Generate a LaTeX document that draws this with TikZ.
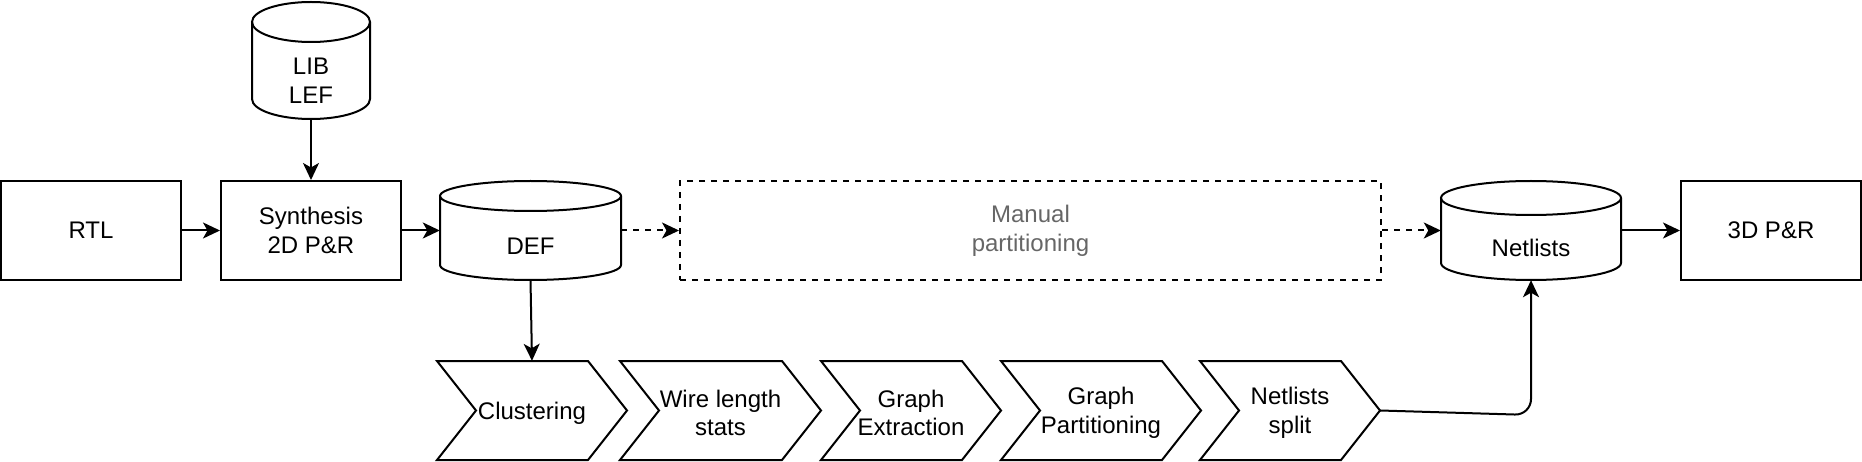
\documentclass[tikz,border=0pt]{standalone}
\usepackage{fontspec}
\setmainfont{Liberation Sans}
\usetikzlibrary{arrows.meta,calc}
\definecolor{fadedtext}{HTML}{666666}
\newcommand\dbcyl[5]{% #1 left, #2 right, #3 top, #4 bottom, #5 ry  (y negative)
  \pgfmathsetmacro\cylrx{(#2-#1)/2}
  \pgfmathsetmacro\cylcx{(#1+#2)/2}
  \draw[shapeline] (#1,{#3-#5}) -- (#1,{#4+#5}) arc[start angle=180,end angle=360,x radius=\cylrx,y radius=#5] -- (#2,{#3-#5});
  \draw[shapeline] (\cylcx,{#3-#5}) ellipse[x radius=\cylrx,y radius=#5];
}
\newcommand\chevpath[2]{% #1 left, #2 right
  \draw[shapeline] (#1,-361) -- ({#2-39},-361) -- (#2,-410.5) -- ({#2-39},-460) -- (#1,-460) -- ({#1+39},-410.5) -- cycle;
}
\tikzset{
  shapeline/.style={line width=2pt, line join=miter},
  procbox/.style={draw, line width=2pt, minimum width=180pt, minimum height=99pt, align=center, inner sep=0pt},
  ghost/.style={draw=none, inner sep=0pt, align=center},
  lbl/.style={inner sep=0pt, align=center},
  arr/.style={line width=2pt, -{Stealth[length=17pt,width=16pt,inset=4.5pt]}},
  darr/.style={arr, dash pattern=on 6pt off 6pt},
}
\begin{document}
\begin{tikzpicture}[x=1pt,y=1pt,font=\fontsize{24}{28.8}\selectfont]
\useasboundingbox (0,0) rectangle (1862,-462);
% boxes
\node[procbox] (rtl) at (91,-230.5) {RTL};
\node[procbox] (syn) at (311,-230.5) {Synthesis\\2D P\&R};
\node[procbox] (p3d) at (1771,-230.5) {3D P\&R};
\node[procbox, dash pattern=on 6pt off 6pt, minimum width=701pt, text=fadedtext] (man) at (1030.5,-230.5) {Manual\\partitioning};
% cylinders
\dbcyl{252}{370}{-2}{-119}{20}
\node[ghost, minimum width=118pt, minimum height=117pt] (lib) at (311,-60.5) {};
\node[lbl] (libT) at (311,-81) {LIB\\LEF};
\dbcyl{440}{621}{-181}{-280}{15}
\node[ghost, minimum width=181pt, minimum height=99pt] (def) at (530.5,-230.5) {};
\node[lbl] (defT) at (530.5,-246) {DEF};
\dbcyl{1441}{1621}{-181}{-280}{17}
\node[ghost, minimum width=180pt, minimum height=99pt] (net) at (1531,-230.5) {};
\node[lbl] (netT) at (1531,-247.5) {Netlists};
% chevrons
\chevpath{437}{627}
\node[ghost, minimum width=190pt, minimum height=99pt, text depth=0pt] (clus) at (532,-410.5) {};
\node[lbl] (clusT) at (532,-413) {Clustering};
\chevpath{620}{821}
\node[ghost, minimum width=201pt, minimum height=99pt] (wire) at (720.5,-410.5) {};
\node[lbl] (wireT) at (720.5,-413) {Wire length\\stats};
\chevpath{821}{1001}
\node[ghost, minimum width=180pt, minimum height=99pt] (gext) at (911,-410.5) {};
\node[lbl] (gextT) at (911,-413) {Graph\\Extraction};
\chevpath{1001}{1201}
\node[ghost, minimum width=200pt, minimum height=99pt] (gpart) at (1101,-410.5) {};
\node[lbl] (gpartT) at (1101,-413) {Graph\\Partitioning};
\chevpath{1200}{1380}
\node[ghost, minimum width=180pt, minimum height=99pt] (nsplit) at (1290,-410.5) {};
\node[lbl] (nsplitT) at (1290,-413) {Netlists\\split};
% connectors
\draw[arr] (rtl.east) -- (syn.west);
\draw[arr] (lib.south) -- (syn.north);
\draw[arr] (syn.east) -- (def.west);
\draw[darr] (def.east) -- (man.west);
\draw[darr] (man.east) -- (net.west);
\draw[arr] (net.east) -- (p3d.west);
\draw[arr] (def.south) -- (clus.north);
\coordinate (nsturn) at (1531,-415);
\draw[arr, rounded corners=16pt] (nsplit.east) -- (nsturn) -- (net.south);
\end{tikzpicture}
\end{document}
